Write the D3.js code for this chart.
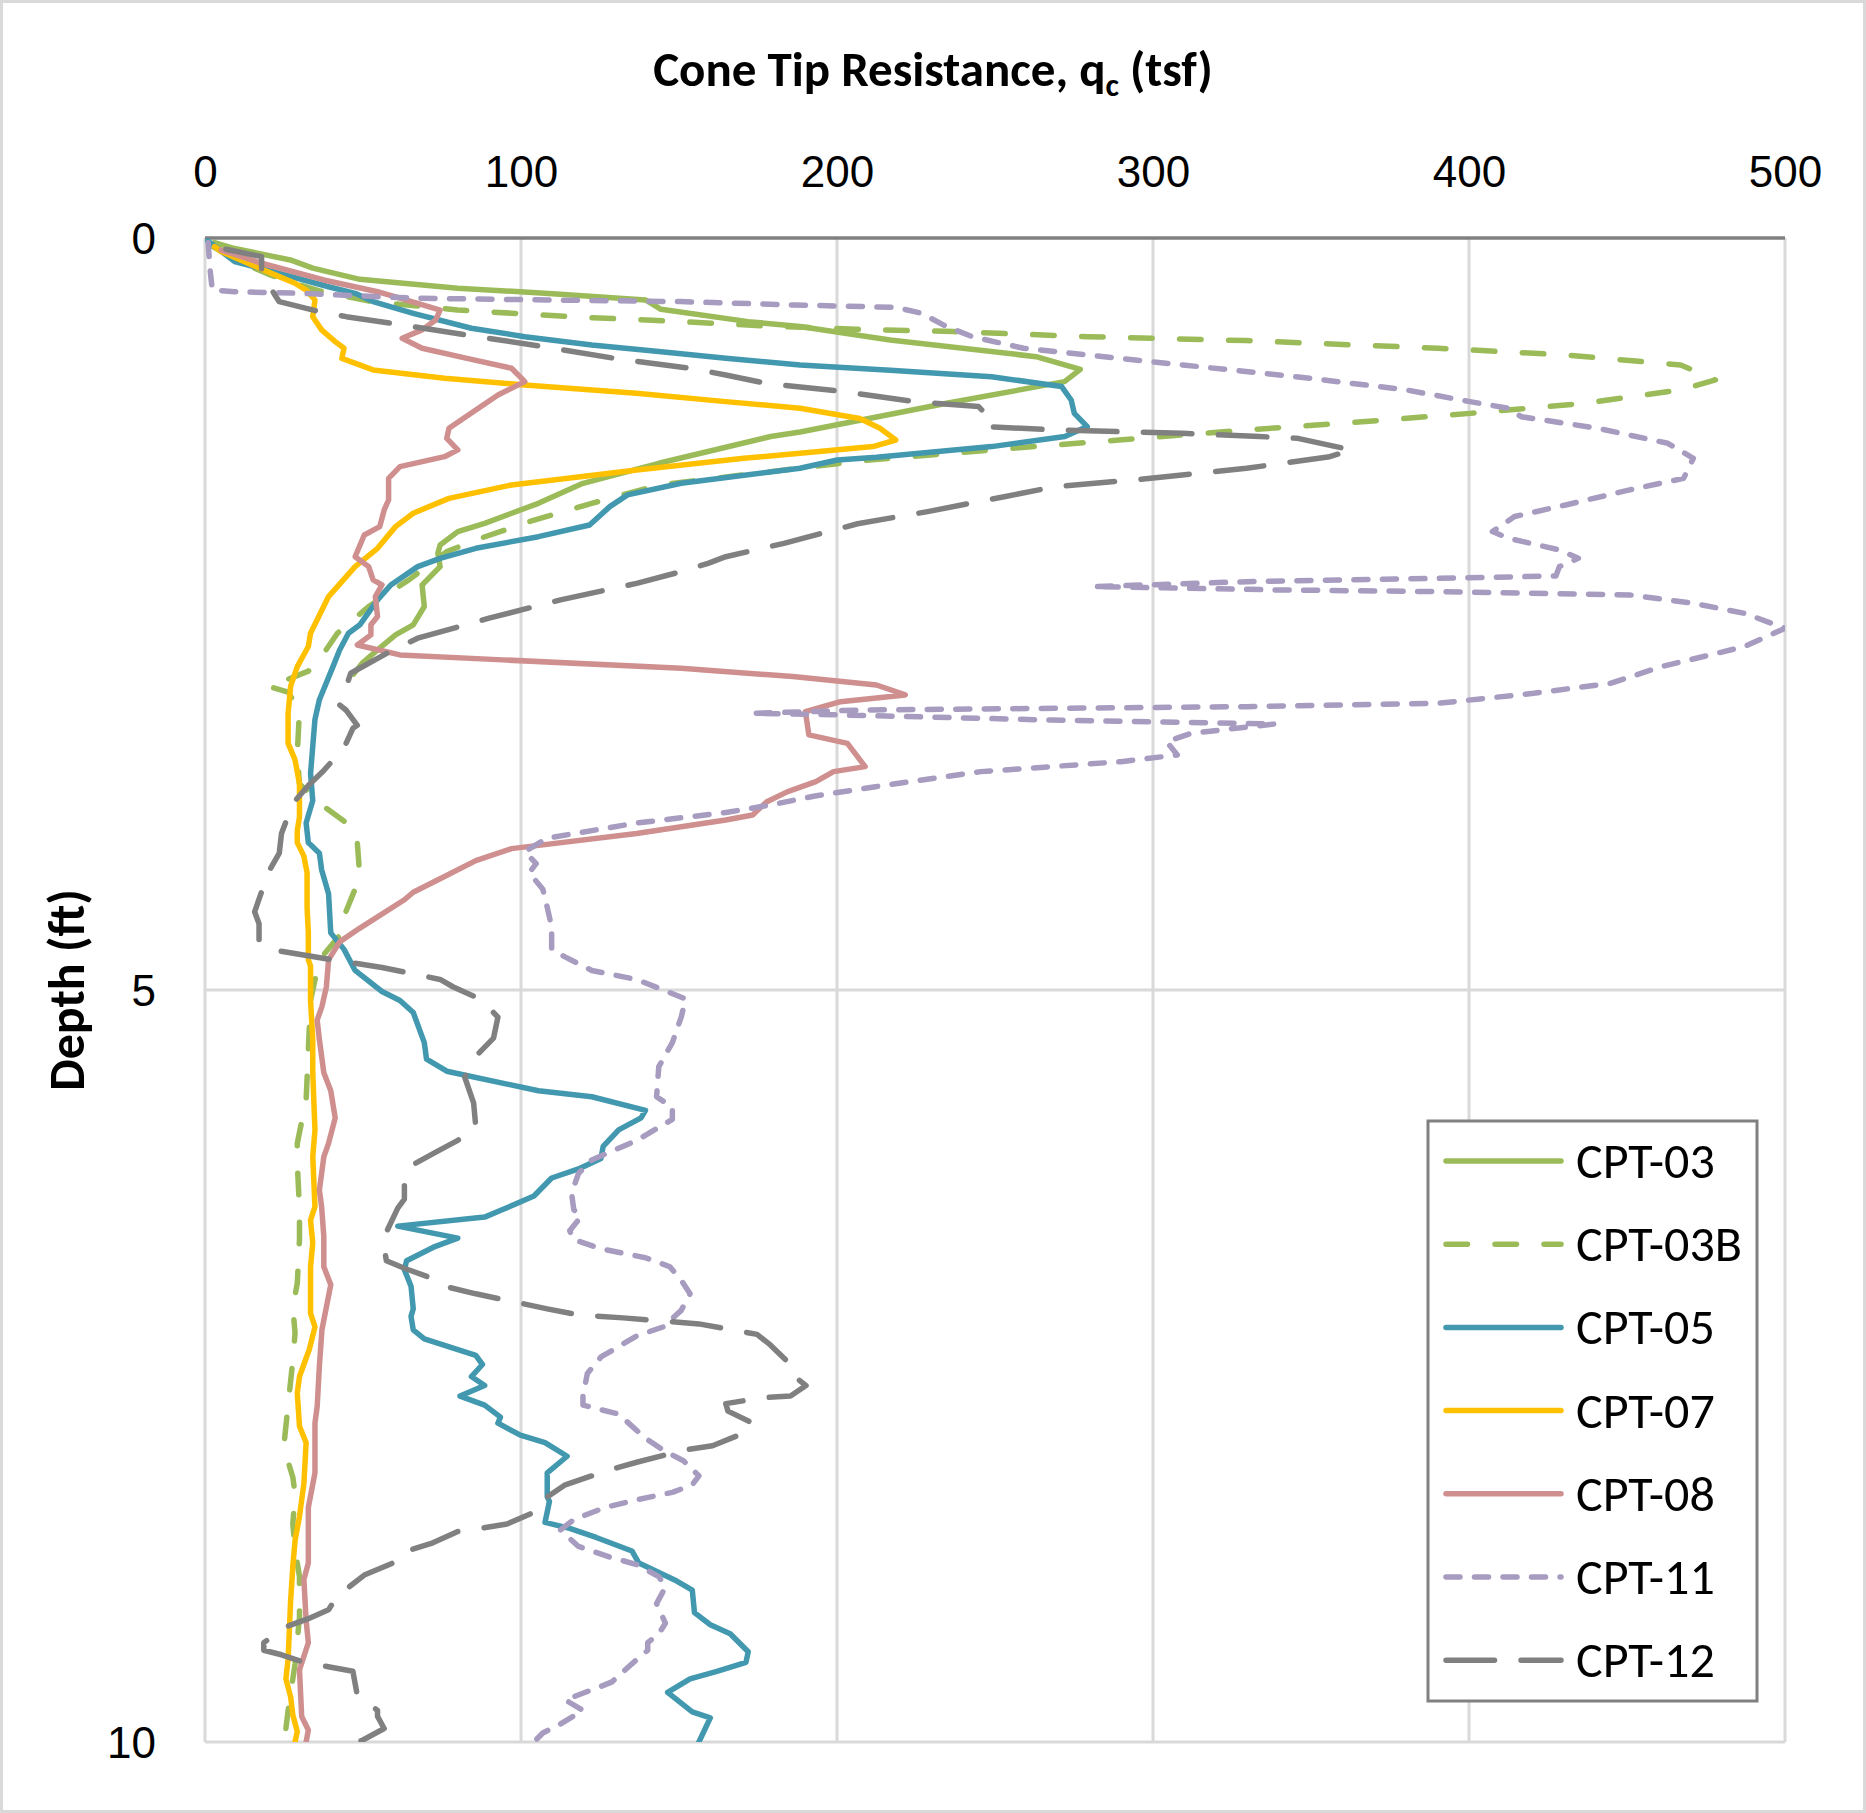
<!DOCTYPE html>
<html>
<head>
<meta charset="utf-8">
<script src="https://cdn.jsdelivr.net/npm/d3@7"></script>
<style>
  body { margin: 0; background: #fff; }
  svg { display: block; font-family: Carlito, Calibri, Lato, sans-serif; }
</style>
</head>
<body>
<div id="chart"></div>
<script>
// [qc (tsf), depth (ft)]
const cpt03 = [[3,0.03],[9.4,0.07],[27,0.146],[34.1,0.2],[49,0.275],[80,0.334],[110,0.37],[139.4,0.412],[144.3,0.474],[171.9,0.556],[188.3,0.589],[216.8,0.678],[263,0.789],[277,0.873],[272,0.955],[234.7,1.099],[188.3,1.29],[179,1.32],[143.6,1.498],[119.6,1.631],[105.5,1.764],[88.5,1.897],[80,1.952],[74.4,2.041],[73.7,2.096],[74.4,2.185],[68.7,2.307],[69.4,2.45],[65.9,2.572],[60.3,2.639],[54.6,2.739],[49.7,2.828],[47,2.9]];

const cpt03b = [[2,0.05],[10,0.15],[20,0.24],[28,0.3],[36,0.35],[52,0.42],[80,0.479],[115.4,0.523],[145,0.55],[177.5,0.585],[205.8,0.607],[236.8,0.622],[279.2,0.656],[329.6,0.682],[390.2,0.733],[430.6,0.778],[467,0.844],[478,0.944],[467,1.01],[436.6,1.099],[400.3,1.166],[359.9,1.232],[329.6,1.276],[289.3,1.343],[248.9,1.409],[208.5,1.48],[143.6,1.642],[122.4,1.764],[102.6,1.886],[87.1,1.997],[76.5,2.085],[64.5,2.273],[51.8,2.45],[41.9,2.628],[37.6,2.76],[32.7,2.88],[25.6,2.94],[20,2.98],[26.3,3.02],[29.9,3.14],[29.2,3.43],[29.9,3.63],[37.6,3.78],[46.8,3.92],[48.2,4.02],[49,4.25],[44,4.51],[43.3,4.62],[36.2,4.8],[33.4,5.07],[32.7,5.4],[32,5.73],[29.2,6.02],[29.2,6.15],[29.9,6.46],[29.9,6.66],[29.2,6.95],[27.8,7.11],[28.5,7.28],[27.8,7.46],[25.6,7.9],[24.9,8.04],[27.8,8.24],[28.5,8.35],[27.8,8.55],[28.5,8.72],[29.9,8.9],[29.9,9.17],[28.5,9.48],[26.3,9.79],[25.6,9.91]];

const cpt05 = [[0.9,0.02],[9.4,0.157],[23.5,0.235],[39.1,0.324],[47.5,0.368],[53.2,0.423],[65.9,0.501],[84.3,0.6],[101.2,0.656],[122.4,0.711],[143.6,0.755],[164.8,0.8],[188.3,0.844],[216.8,0.88],[248.9,0.922],[271.1,0.988],[274.1,1.077],[275.1,1.166],[279.2,1.254],[272.1,1.32],[248.9,1.387],[212.5,1.458],[200.1,1.476],[188.3,1.531],[150.7,1.631],[133.7,1.708],[128.1,1.786],[121.7,1.908],[105.5,1.986],[85.7,2.063],[74.4,2.13],[67.3,2.185],[58.8,2.307],[54.6,2.406],[49,2.572],[45.4,2.628],[42.6,2.739],[40.5,2.85],[36.2,3.07],[34.8,3.2],[33.4,3.56],[34.1,3.74],[32,3.89],[32.7,4.02],[36.2,4.09],[36.9,4.2],[39.1,4.36],[39.8,4.62],[44,4.73],[47.5,4.87],[56,5.01],[61.7,5.07],[65.9,5.15],[69.4,5.35],[70.1,5.46],[76.5,5.54],[105.5,5.67],[122.4,5.71],[139.4,5.8],[138,5.85],[130.9,5.93],[126,6.04],[125.3,6.12],[118.2,6.19],[109.7,6.25],[104.1,6.37],[94.2,6.46],[88.5,6.51],[61,6.57],[80,6.65],[72.3,6.71],[63.8,6.8],[63.1,6.86],[65.2,6.97],[65.9,7.12],[65.2,7.17],[65.9,7.26],[69.4,7.32],[85.7,7.43],[87.8,7.49],[84.3,7.57],[88.5,7.63],[80.7,7.7],[88.5,7.76],[93.5,7.84],[92.7,7.88],[99.8,7.96],[107.6,8.01],[114.6,8.1],[108.3,8.21],[108.3,8.37],[109,8.4],[107.6,8.54],[115.4,8.58],[123.8,8.64],[135.1,8.73],[137.3,8.81],[149.3,8.93],[154.2,8.99],[154.9,9.14],[159.9,9.22],[166.2,9.28],[171.9,9.4],[171.2,9.47],[162,9.53],[153.5,9.58],[146.4,9.67],[154.2,9.8],[159.9,9.84],[156.3,10.0]];

const cpt07 = [[3,0.057],[5.1,0.09],[18.6,0.213],[23.5,0.257],[28.5,0.301],[32,0.346],[34.8,0.412],[34.1,0.523],[36.9,0.611],[41.2,0.689],[44,0.733],[43.3,0.8],[53.2,0.877],[75.8,0.933],[101.2,0.977],[136.5,1.033],[164.8,1.088],[188.3,1.132],[207.2,1.2],[213.6,1.265],[218.6,1.343],[211.4,1.387],[188.3,1.431],[170.5,1.465],[136.6,1.542],[97,1.642],[77.2,1.731],[65.9,1.83],[60.3,1.919],[54.6,2.063],[47.5,2.185],[39.1,2.384],[33.4,2.628],[32.7,2.716],[29.2,2.85],[27.1,2.98],[26.3,3.16],[26.3,3.36],[28.5,3.47],[29.9,3.63],[29.9,3.85],[29.2,3.94],[29.2,4.02],[31.3,4.11],[32.3,4.22],[32.3,4.45],[32.7,4.62],[32.7,4.8],[33.4,4.84],[33.4,5.07],[34.1,5.33],[34.1,5.55],[34.8,5.93],[34.1,6.11],[34.8,6.44],[33.4,6.53],[34.1,6.68],[33.4,6.84],[33.4,7.15],[34.8,7.24],[33,7.39],[29.9,7.57],[29.2,7.68],[29.9,7.9],[32,8.01],[31.3,8.28],[29.9,8.5],[28.5,8.66],[27.8,8.83],[27.1,9.06],[26.3,9.45],[25.6,9.58],[27.1,9.7],[27.8,9.82],[29.2,9.93],[28.5,10.0]];

const cpt08 = [[5.1,0.08],[17.9,0.168],[37.6,0.279],[54.6,0.357],[67.3,0.434],[74.4,0.479],[73,0.545],[68.7,0.611],[62.4,0.667],[68.7,0.733],[82.9,0.8],[97,0.866],[101.2,0.955],[92.7,1.044],[85.7,1.143],[77.2,1.265],[76.5,1.332],[80,1.409],[75.8,1.454],[61.7,1.52],[58.1,1.598],[58.1,1.742],[56.7,1.808],[55.3,1.919],[50.4,1.975],[47.5,2.119],[51.8,2.185],[53.2,2.273],[56,2.307],[53.9,2.384],[54.6,2.517],[52.5,2.572],[52.5,2.639],[48.2,2.706],[61.7,2.772],[94.2,2.805],[150.7,2.861],[186,2.916],[212.5,2.972],[221.6,3.038],[201.1,3.083],[190,3.149],[191.1,3.304],[203.3,3.36],[208.9,3.515],[198.9,3.548],[193.3,3.615],[184.4,3.681],[177.8,3.748],[173.3,3.836],[164.8,3.87],[136.6,3.96],[97,4.06],[85.7,4.14],[74.4,4.26],[65.9,4.35],[63.1,4.4],[48.9,4.59],[42.6,4.68],[39.1,4.8],[38.4,4.98],[37,5.11],[35.5,5.2],[36.2,5.33],[37.6,5.55],[39.8,5.67],[41.2,5.85],[39.1,6.02],[37.6,6.11],[36.2,6.33],[36.9,6.44],[37.6,6.64],[37.6,6.84],[39.8,6.96],[38.4,7.11],[37,7.26],[36.2,7.5],[35.5,7.77],[34.8,7.88],[34.8,8.21],[32.7,8.44],[32.7,8.81],[31.3,8.92],[32,9.19],[32.7,9.34],[29.9,9.52],[30.6,9.83],[32.7,9.92],[32,10.0]];

const cpt11 = [[1,0.03],[1.6,0.21],[2.3,0.345],[9.4,0.357],[30.6,0.368],[65.9,0.4],[108.3,0.412],[150.7,0.423],[186,0.445],[218.6,0.461],[226.7,0.5],[234.7,0.589],[242.8,0.656],[259,0.733],[279.2,0.778],[309.4,0.844],[349.8,0.933],[380.1,1.01],[400.3,1.088],[412.4,1.132],[416.5,1.188],[440.7,1.265],[462.9,1.365],[471,1.465],[467.9,1.598],[450.8,1.675],[430.6,1.775],[414.4,1.852],[407.4,1.952],[412.4,1.996],[428.6,2.074],[434.6,2.13],[428.6,2.185],[427.5,2.247],[390.2,2.263],[329.6,2.285],[281.2,2.318],[339.7,2.34],[390.2,2.351],[450.8,2.373],[471,2.429],[487.1,2.495],[500,2.595],[487.1,2.717],[460.9,2.85],[444.7,2.961],[420.5,3.027],[390.2,3.094],[329.6,3.116],[269.1,3.127],[208.5,3.138],[173.4,3.16],[201.1,3.171],[267.7,3.205],[338.7,3.231],[312.1,3.293],[304.3,3.349],[307.7,3.437],[289.9,3.482],[245.5,3.548],[212.2,3.648],[193,3.71],[178.9,3.77],[164.8,3.82],[136.6,3.89],[108.3,3.99],[101.2,4.08],[104.8,4.16],[102.6,4.22],[106.9,4.33],[108.3,4.45],[109.7,4.58],[109.7,4.73],[113.9,4.78],[122.4,4.87],[136.6,4.93],[145,5.0],[152.1,5.06],[150.7,5.18],[147.9,5.35],[143.6,5.51],[142.9,5.71],[147.9,5.78],[147.9,5.86],[136.6,6.0],[122.4,6.13],[118.2,6.22],[116,6.35],[116.7,6.46],[118.9,6.51],[115.4,6.6],[116.7,6.66],[125.3,6.72],[139.4,6.78],[147.1,6.84],[150.7,6.93],[153.5,7.02],[150.7,7.13],[145,7.24],[136.6,7.3],[125.3,7.44],[121,7.55],[119.6,7.7],[119.6,7.76],[130.9,7.82],[135.1,7.9],[139.4,7.98],[145,8.06],[151.4,8.13],[156.3,8.23],[154.2,8.29],[147.9,8.34],[136.6,8.39],[126.7,8.44],[116.8,8.52],[112.5,8.59],[118.2,8.7],[128.1,8.77],[136.6,8.82],[143.6,8.9],[145.7,8.97],[142.9,9.08],[145.7,9.21],[143.6,9.28],[140.1,9.34],[140.1,9.39],[135.1,9.48],[128.8,9.6],[125.3,9.63],[114,9.72],[119.6,9.79],[112.5,9.88],[106.9,9.94],[104.1,10.0]];

const cpt12 = [[6.6,0.075],[17.9,0.124],[17.9,0.224],[22.1,0.379],[23.5,0.423],[36.2,0.49],[44.7,0.523],[58.8,0.567],[82.9,0.645],[106.9,0.722],[129.5,0.8],[153.5,0.866],[164.8,0.911],[177.5,0.966],[201.5,1.02],[224.6,1.088],[244.8,1.121],[246.9,1.166],[246.9,1.254],[269.1,1.276],[309.4,1.299],[333.7,1.32],[345.8,1.332],[357.9,1.387],[363,1.409],[355.9,1.454],[329.6,1.531],[299.3,1.598],[269.1,1.653],[252.9,1.72],[228.7,1.819],[206.5,1.9],[183.2,2.03],[164.8,2.119],[159.2,2.163],[150.7,2.218],[136.6,2.296],[112.5,2.406],[89.9,2.528],[67.3,2.661],[59.5,2.739],[46.1,2.894],[44,3.027],[42.6,3.105],[44.7,3.14],[48.2,3.24],[46.8,3.26],[44,3.39],[37.6,3.54],[32.7,3.64],[27.8,3.76],[24.2,3.96],[23.5,4.09],[20,4.22],[15.7,4.48],[17.1,4.56],[17.1,4.68],[23.5,4.74],[40.5,4.8],[56,4.85],[74.4,4.93],[78.6,4.98],[87.1,5.06],[92.7,5.18],[91.3,5.32],[85.7,5.44],[82.2,5.58],[85,5.75],[85.7,5.91],[80,6.0],[72.9,6.08],[65.9,6.16],[63.1,6.26],[63.1,6.39],[61,6.45],[57.4,6.61],[56.7,6.71],[57.4,6.8],[63.1,6.85],[70.9,6.91],[75.8,6.97],[85.7,7.02],[108.3,7.12],[118.2,7.16],[132.3,7.18],[156.3,7.22],[174.7,7.29],[178.9,7.36],[185.3,7.49],[186,7.56],[190.2,7.63],[185.3,7.7],[176.8,7.71],[164.8,7.75],[165.5,7.8],[173.3,7.88],[171.2,7.94],[160.6,8.03],[151.4,8.06],[136.6,8.14],[128.1,8.19],[114,8.29],[106.9,8.39],[105.5,8.46],[95.6,8.55],[87.1,8.58],[80,8.6],[71.6,8.68],[63.8,8.73],[61.7,8.79],[50.4,8.89],[41.9,9.03],[39.1,9.12],[32.7,9.18],[24.9,9.24],[18.6,9.34],[18.6,9.39],[24.2,9.42],[31.3,9.47],[46.8,9.53],[48.2,9.69],[54.6,9.79],[54.6,9.83],[56.7,9.91],[49.7,9.99],[47.5,10.0]];

const seriesNames = ["CPT-03", "CPT-03B", "CPT-05", "CPT-07", "CPT-08", "CPT-11", "CPT-12"];
const seriesData = [cpt03, cpt03b, cpt05, cpt07, cpt08, cpt11, cpt12];
const qcTicks = [0, 100, 200, 300, 400, 500];
const depthTicks = [0, 5, 10];

const colors = ["#9bbb59", "#9bbb59", "#4198af", "#ffc000", "#d08f8f", "#a79bc0", "#808080"];
const dashes = [null, "21.5,27.5", null, null, null, "14,14.5", "48.5,26.5"];

const width = 1866, height = 1813;
const plot = { left: 205, right: 1785, top: 238, bottom: 1742 };

const svg = d3.select("#chart").append("svg")
  .attr("width", width)
  .attr("height", height);

svg.append("rect")
  .attr("x", 1.5).attr("y", 1.5)
  .attr("width", width - 3).attr("height", height - 3)
  .attr("fill", "#fff")
  .attr("stroke", "#d9d9d9")
  .attr("stroke-width", 3);

const x = d3.scaleLinear().domain([0, 500]).range([plot.left, plot.right]);
const y = d3.scaleLinear().domain([0, 10]).range([plot.top, plot.bottom]);

// gridlines
svg.append("g")
  .selectAll("line")
  .data(qcTicks)
  .enter()
  .append("line")
  .attr("x1", (d) => x(d)).attr("x2", (d) => x(d))
  .attr("y1", plot.top).attr("y2", plot.bottom)
  .attr("stroke", "#d9d9d9")
  .attr("stroke-width", 3);

svg.append("g")
  .selectAll("line")
  .data(depthTicks.slice(1))
  .enter()
  .append("line")
  .attr("x1", plot.left).attr("x2", plot.right)
  .attr("y1", (d) => y(d)).attr("y2", (d) => y(d))
  .attr("stroke", "#d9d9d9")
  .attr("stroke-width", 3);

// top axis line
svg.append("line")
  .attr("x1", plot.left).attr("x2", plot.right)
  .attr("y1", plot.top).attr("y2", plot.top)
  .attr("stroke", "#808080")
  .attr("stroke-width", 3.5);

// axes labels
const xAxis = svg.append("g")
  .attr("transform", `translate(0, 187)`)
  .call(d3.axisTop(x).tickValues(qcTicks).tickSize(0).tickPadding(0));
xAxis.select(".domain").remove();
xAxis.selectAll("text")
  .attr("y", 0).attr("dy", 0)
  .style("font-size", "44px")
  .style("fill", "#000");

const yAxis = svg.append("g")
  .attr("transform", `translate(156, 0)`)
  .call(d3.axisLeft(y).tickValues(depthTicks).tickSize(0).tickPadding(0));
yAxis.select(".domain").remove();
yAxis.selectAll("text")
  .attr("x", 0).attr("dy", "15px")
  .style("font-size", "44px")
  .style("fill", "#000");

// titles
const title = svg.append("text")
  .attr("x", 933)
  .attr("y", 86)
  .attr("text-anchor", "middle")
  .style("font-size", "49px")
  .style("font-weight", "bold");
title.append("tspan").text("Cone Tip Resistance, q");
title.append("tspan").attr("dy", 10).style("font-size", "32px").text("c");
title.append("tspan").attr("dy", -10).text(" (tsf)");

svg.append("text")
  .attr("transform", `translate(84, 990) rotate(-90)`)
  .attr("text-anchor", "middle")
  .style("font-size", "50px")
  .style("font-weight", "bold")
  .text("Depth (ft)");

// series
svg.append("defs").append("clipPath").attr("id", "plot-clip")
  .append("rect")
  .attr("x", plot.left).attr("y", plot.top)
  .attr("width", plot.right - plot.left).attr("height", plot.bottom - plot.top);

const line = d3.line().x((d) => x(d[0])).y((d) => y(d[1]));

svg.append("g")
  .attr("clip-path", "url(#plot-clip)")
  .selectAll("path")
  .data(seriesData)
  .enter()
  .append("path")
  .attr("d", line)
  .attr("fill", "none")
  .attr("stroke", (d, i) => colors[i])
  .attr("stroke-width", 5.5)
  .attr("stroke-linecap", "round")
  .attr("stroke-linejoin", "round")
  .attr("stroke-dasharray", (d, i) => dashes[i]);

// legend
const legend = svg.append("g");
legend.append("rect")
  .attr("x", 1428).attr("y", 1121)
  .attr("width", 329).attr("height", 580)
  .attr("fill", "#fff")
  .attr("stroke", "#808080")
  .attr("stroke-width", 3);

const rows = legend.selectAll("g.row")
  .data(seriesNames)
  .enter()
  .append("g")
  .attr("class", "row")
  .attr("transform", (d, i) => `translate(0, ${1161 + i * 83.2})`);

rows.append("line")
  .attr("x1", 1446).attr("x2", 1561)
  .attr("y1", 0).attr("y2", 0)
  .attr("stroke", (d, i) => colors[i])
  .attr("stroke-width", 5.5)
  .attr("stroke-linecap", "round")
  .attr("stroke-dasharray", (d, i) => dashes[i]);

rows.append("text")
  .attr("x", 1576)
  .attr("y", 17)
  .style("font-size", "50px")
  .text((d) => d);
</script>
</body>
</html>
